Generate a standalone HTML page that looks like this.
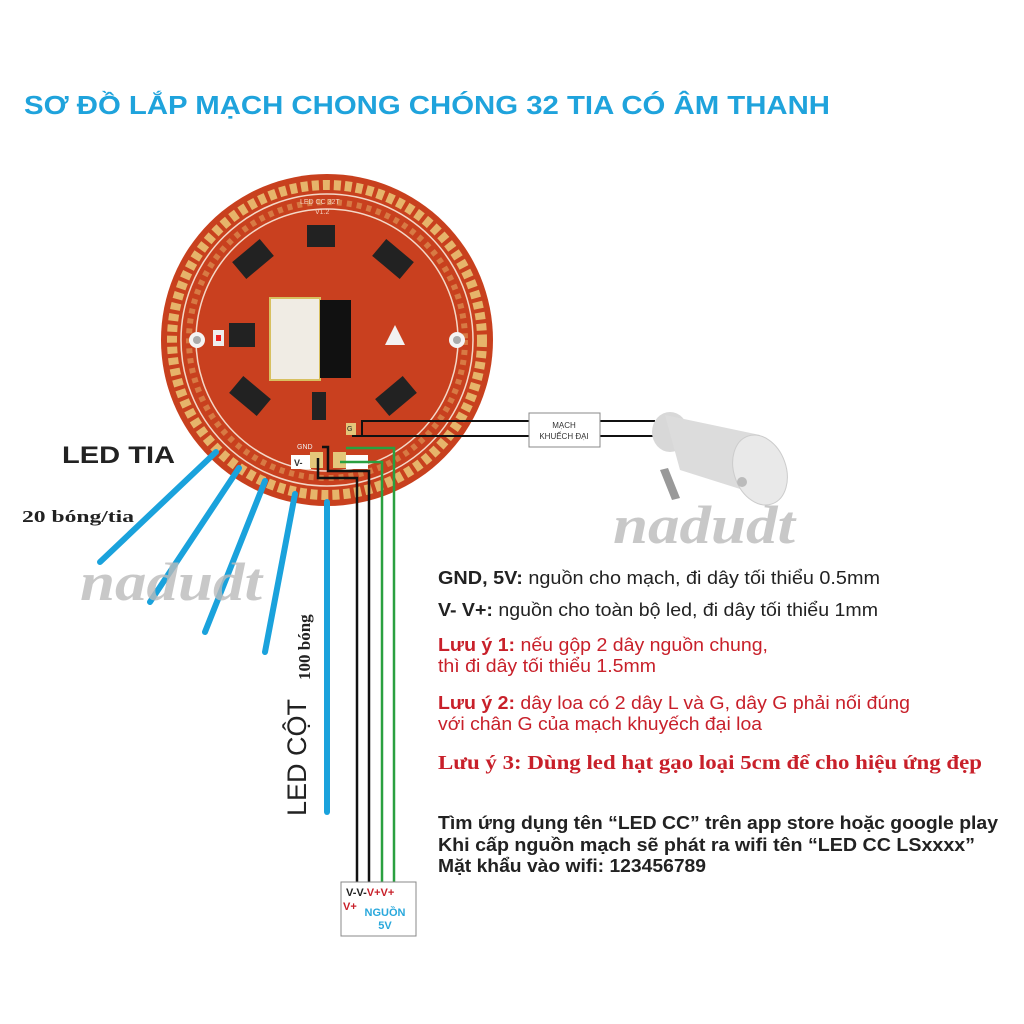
<!DOCTYPE html>
<html><head><meta charset="utf-8"><style>
html,body{margin:0;padding:0;background:#fff;}
svg{display:block}
text{font-family:"Liberation Sans",sans-serif;}
.s{font-family:"Liberation Serif",serif;}
</style></head><body>
<svg width="1024" height="1024" viewBox="0 0 1024 1024" xmlns="http://www.w3.org/2000/svg">
<rect width="1024" height="1024" fill="#fff"/>
<text x="24" y="114" font-size="26" font-weight="bold" fill="#1fa3dc" textLength="806" lengthAdjust="spacingAndGlyphs">SƠ ĐỒ LẮP MẠCH CHONG CHÓNG 32 TIA CÓ ÂM THANH</text>

<!-- board -->
<circle cx="327" cy="340" r="166" fill="#c8401e"/>
<circle cx="327" cy="340" r="155" fill="none" stroke="#e6b46a" stroke-width="10" stroke-dasharray="7 4"/>
<circle cx="327" cy="340" r="146" fill="none" stroke="#f4d8c8" stroke-width="1.5"/>
<circle cx="327" cy="340" r="138" fill="none" stroke="#e6b46a" stroke-width="6" stroke-dasharray="5 5" opacity="0.5"/>
<circle cx="327" cy="340" r="131" fill="none" stroke="#f4d8c8" stroke-width="1.5"/>
<circle cx="327" cy="340" r="129" fill="#c9401f"/>
<text x="300" y="204" font-size="7" fill="#f3d0c0" font-family="Liberation Mono">LED CC 32T</text>
<text x="315" y="214" font-size="7" fill="#f3d0c0" font-family="Liberation Mono">V1.2</text>
<rect x="307" y="225" width="28" height="22" fill="#222"/>
<g fill="#222">
<rect x="235" y="248" width="36" height="22" transform="rotate(-40 253 259)"/>
<rect x="375" y="248" width="36" height="22" transform="rotate(40 393 259)"/>
<rect x="232" y="385" width="36" height="22" transform="rotate(40 250 396)"/>
<rect x="378" y="385" width="36" height="22" transform="rotate(-40 396 396)"/>
<rect x="229" y="323" width="26" height="24"/>
<rect x="312" y="392" width="14" height="28"/>
</g>
<rect x="270" y="298" width="50" height="82" fill="#f0ece4" stroke="#d8c060" stroke-width="2"/>
<rect x="320" y="300" width="31" height="78" fill="#111"/>
<polygon points="385,345 395,325 405,345" fill="#f2f2f2"/>
<circle cx="197" cy="340" r="8" fill="#f4f4f4"/><circle cx="197" cy="340" r="4" fill="#aaa"/>
<circle cx="457" cy="340" r="8" fill="#f4f4f4"/><circle cx="457" cy="340" r="4" fill="#aaa"/>
<rect x="213" y="330" width="11" height="16" fill="#eee"/><rect x="216" y="335" width="5" height="6" fill="#e22"/>
<rect x="291" y="455" width="20" height="14" fill="#fff"/><text x="294" y="466" font-size="9" font-weight="bold" fill="#333">V-</text>
<rect x="310" y="452" width="13" height="16" fill="#e4c77a"/>
<rect x="333" y="452" width="13" height="16" fill="#e4c77a"/>
<rect x="346" y="455" width="22" height="14" fill="#fff"/>
<text x="297" y="449" font-size="7" fill="#eee">GND</text>
<rect x="346" y="423" width="10" height="12" fill="#e4c77a"/><text x="347" y="431" font-size="7" fill="#222">G</text>

<!-- wires -->
<g fill="none" stroke-width="2.5">
<path d="M318 458 V478 H357 V882" stroke="#111"/>
<path d="M322 447 H328 V471 H369 V882" stroke="#111"/>
<path d="M340 462 H382 V882" stroke="#2aa040"/>
<path d="M346 448 H394 V882" stroke="#2aa040"/>
<path d="M362 436 V421 H530" stroke="#111" stroke-width="2"/>
<path d="M352 436 H530" stroke="#111" stroke-width="2"/>
<path d="M600 421 H655 M600 436 H655" stroke="#111" stroke-width="2"/>
</g>
<rect x="529" y="413" width="71" height="34" fill="#fff" stroke="#888"/>
<text x="564" y="428" font-size="8" text-anchor="middle" fill="#333">MẠCH</text>
<text x="564" y="439" font-size="8" text-anchor="middle" fill="#333">KHUẾCH ĐẠI</text>

<!-- speaker -->
<g>
<path d="M660 470 L672 500 L680 498 L668 468 Z" fill="#999"/>
<ellipse cx="670" cy="432" rx="18" ry="20" fill="#d8d8d8"/>
<path d="M665 415 L760 435 L775 500 L680 470 Z" fill="#dcdcdc"/>
<ellipse cx="760" cy="470" rx="26" ry="36" transform="rotate(-20 760 470)" fill="#e9e9e9" stroke="#ccc"/>
<ellipse cx="742" cy="482" rx="5" ry="5" fill="#bbb"/>
</g>

<!-- blue LED lines -->
<g stroke="#1aa2dc" stroke-width="6" stroke-linecap="round">
<line x1="216" y1="452" x2="100" y2="562"/>
<line x1="239" y1="468" x2="150" y2="602"/>
<line x1="265" y1="481" x2="205" y2="632"/>
<line x1="295" y1="494" x2="265" y2="652"/>
<line x1="327" y1="502" x2="327" y2="812"/>
</g>

<g lengthAdjust="spacingAndGlyphs">
<text x="62" y="463" font-size="24" font-weight="bold" fill="#222" textLength="113" lengthAdjust="spacingAndGlyphs">LED TIA</text>
<text x="22" y="522" font-size="17" font-weight="bold" fill="#222" class="s" textLength="112" lengthAdjust="spacingAndGlyphs">20 bóng/tia</text>
<text transform="translate(306 816) rotate(-90)" font-size="27" fill="#222">LED CỘT</text>
<text transform="translate(310 680) rotate(-90)" font-size="17" font-weight="bold" fill="#222" class="s">100 bóng</text>

<text x="80" y="600" font-size="54" font-style="italic" font-weight="bold" fill="#bbb" class="s" opacity="0.8" textLength="182" lengthAdjust="spacingAndGlyphs">nadudt</text>
<text x="613" y="543" font-size="54" font-style="italic" font-weight="bold" fill="#bbb" class="s" opacity="0.8" textLength="182" lengthAdjust="spacingAndGlyphs">nadudt</text>

<g font-size="18" fill="#222">
<text x="438" y="584" textLength="442" lengthAdjust="spacingAndGlyphs"><tspan font-weight="bold">GND, 5V:</tspan> nguồn cho mạch, đi dây tối thiểu 0.5mm</text>
<text x="438" y="616" textLength="440" lengthAdjust="spacingAndGlyphs"><tspan font-weight="bold">V- V+:</tspan> nguồn cho toàn bộ led, đi dây tối thiểu 1mm</text>
</g>
<g font-size="18" fill="#c8202a">
<text x="438" y="651" textLength="330" lengthAdjust="spacingAndGlyphs"><tspan font-weight="bold">Lưu ý 1:</tspan> nếu gộp 2 dây nguồn chung,</text>
<text x="438" y="672" textLength="218" lengthAdjust="spacingAndGlyphs">thì đi dây tối thiểu 1.5mm</text>
<text x="438" y="709" textLength="472" lengthAdjust="spacingAndGlyphs"><tspan font-weight="bold">Lưu ý 2:</tspan> dây loa có 2 dây L và G, dây G phải nối đúng</text>
<text x="438" y="730" textLength="324" lengthAdjust="spacingAndGlyphs">với chân G của mạch khuyếch đại loa</text>
<text x="438" y="769" font-size="20" font-weight="bold" class="s" textLength="544" lengthAdjust="spacingAndGlyphs">Lưu ý 3: Dùng led hạt gạo loại 5cm để cho hiệu ứng đẹp</text>
</g>
<g font-size="18" font-weight="bold" fill="#222">
<text x="438" y="829" textLength="560" lengthAdjust="spacingAndGlyphs">Tìm ứng dụng tên “LED CC” trên app store hoặc google play</text>
<text x="438" y="851" textLength="537" lengthAdjust="spacingAndGlyphs">Khi cấp nguồn mạch sẽ phát ra wifi tên “LED CC LSxxxx”</text>
<text x="438" y="872" textLength="268" lengthAdjust="spacingAndGlyphs">Mặt khẩu vào wifi: 123456789</text>
</g>
</g>

<rect x="341" y="882" width="75" height="54" fill="#fff" stroke="#888"/>
<text x="346" y="896" font-size="11" font-weight="bold"><tspan fill="#222">V-V-</tspan><tspan fill="#c8202a">V+V+</tspan></text>
<text x="343" y="910" font-size="11" font-weight="bold" fill="#c8202a">V+</text>
<text x="385" y="916" font-size="11" font-weight="bold" fill="#29a8dc" text-anchor="middle">NGUỒN</text>
<text x="385" y="929" font-size="11" font-weight="bold" fill="#29a8dc" text-anchor="middle">5V</text>
</svg>
</body></html>
